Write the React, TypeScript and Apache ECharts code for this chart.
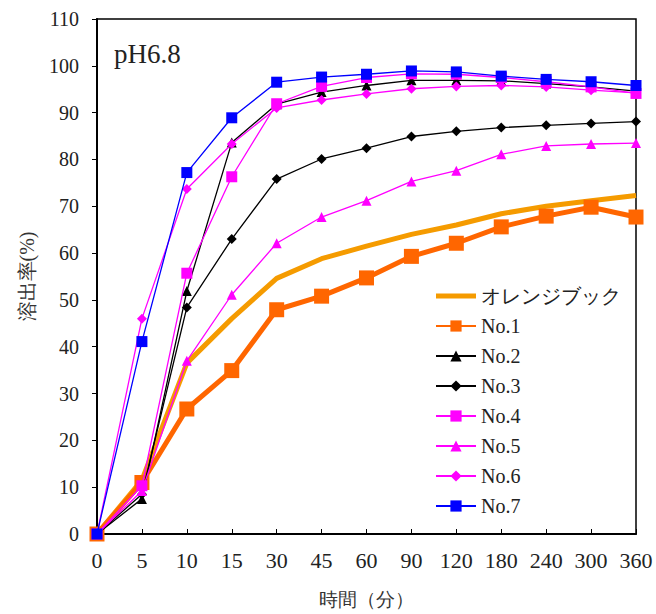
import React, { useEffect, useRef } from "react";
import * as echarts from "echarts";

const categories = ["0", "5", "10", "15", "30", "45", "60", "90", "120", "180", "240", "300", "360"];
const orangeBook = [0, 11.5, 36.5, 46, 54.6, 58.8, 61.5, 64, 66, 68.4, 70, 71.2, 72.3];
const no1 = [0, 11, 26.7, 34.9, 47.9, 50.8, 54.7, 59.3, 62.1, 65.6, 67.9, 69.8, 67.7];
const no2 = [0, 7.5, 51.9, 83.6, 91.8, 94.4, 95.8, 96.9, 96.9, 96.8, 96.2, 95.5, 94.6];
const no3 = [0, 8.5, 48.4, 63, 75.8, 80.1, 82.4, 84.9, 86, 86.8, 87.3, 87.7, 88.1];
const no4 = [0, 10.3, 55.7, 76.3, 91.9, 95.6, 97.5, 98.3, 98.2, 97.5, 96.6, 95.5, 94.1];
const no5 = [0, 9.2, 37, 51.1, 62.1, 67.7, 71.2, 75.3, 77.6, 81.1, 82.9, 83.3, 83.5];
const no6 = [0, 46, 73.7, 83.3, 91, 92.7, 94, 95.1, 95.6, 95.8, 95.5, 94.8, 94.2];
const no7 = [0, 41.1, 77.2, 88.9, 96.5, 97.6, 98.2, 98.9, 98.7, 97.8, 97.1, 96.6, 95.8];

const SERIF = "Liberation Serif, Times New Roman, Tinos, serif";

export default function App() {
  const ref = useRef<HTMLDivElement>(null);
  useEffect(() => {
    if (!ref.current) return;
    const chart = echarts.init(ref.current, undefined, { renderer: "svg" });
    const mk = (name: string, data: number[], color: string, symbol: string, symbolSize: number, width: number, z: number) => ({
      name,
      type: "line",
      data,
      symbol,
      symbolSize,
      showSymbol: symbol !== "none",
      lineStyle: { color, width },
      itemStyle: { color },
      z,
    });
    chart.setOption({
      animation: false,
      textStyle: { fontFamily: SERIF },
      grid: {
        left: 97,
        right: 20,
        top: 19,
        bottom: 76,
        show: true,
        borderColor: "#000",
        borderWidth: 1.5,
      },
      graphic: [
        {
          type: "text",
          left: 114,
          top: 40,
          style: { text: "pH6.8", fontSize: 27, fontFamily: SERIF, fill: "#222" },
        },
      ],
      legend: {
        orient: "vertical",
        left: 430,
        top: 281,
        itemWidth: 40,
        itemHeight: 14,
        itemGap: 10,
        textStyle: { fontSize: 20, fontFamily: SERIF, color: "#222", lineHeight: 20 },
        data: [
          { name: "オレンジブック", icon: "path://M0,0 H40 V5 H0 Z" },
          "No.1",
          "No.2",
          "No.3",
          "No.4",
          "No.5",
          "No.6",
          "No.7",
        ],
      },
      xAxis: {
        type: "category",
        data: categories,
        boundaryGap: false,
        name: "時間（分）",
        nameLocation: "middle",
        nameGap: 56,
        nameTextStyle: { fontSize: 19, fontFamily: SERIF, color: "#333" },
        axisLine: { lineStyle: { color: "#000", width: 2 } },
        axisTick: { inside: true, length: 5, lineStyle: { color: "#000" } },
        axisLabel: { fontSize: 22, fontFamily: SERIF, color: "#222", margin: 15 },
        splitLine: { show: false },
      },
      yAxis: {
        type: "value",
        min: 0,
        max: 110,
        interval: 10,
        name: "溶出率(%)",
        nameLocation: "middle",
        nameRotate: 90,
        nameGap: 60,
        nameTextStyle: { fontSize: 20, fontFamily: SERIF, color: "#333" },
        axisLine: { show: true, lineStyle: { color: "#000", width: 2 } },
        axisTick: { show: true, inside: false, length: 5, lineStyle: { color: "#000" } },
        axisLabel: { fontSize: 20, fontFamily: SERIF, color: "#222", margin: 18 },
        splitLine: { show: false },
      },
      series: [
        mk("オレンジブック", orangeBook, "#F59B00", "none", 0, 5, 2),
        mk("No.1", no1, "#FF6600", "rect", 15, 5, 3),
        mk("No.2", no2, "#000000", "triangle", 10, 1.3, 4),
        mk("No.3", no3, "#000000", "diamond", 10, 1.3, 5),
        mk("No.4", no4, "#FF00FF", "rect", 11, 1.3, 6),
        mk("No.5", no5, "#FF00FF", "triangle", 10, 1.3, 7),
        mk("No.6", no6, "#FF00FF", "diamond", 10, 1.3, 8),
        mk("No.7", no7, "#0000FF", "rect", 11, 1.3, 9),
      ],
    });
    return () => chart.dispose();
  }, []);
  return <div ref={ref} style={{ position: "absolute", left: 0, top: 0, width: 656, height: 614 }} />;
}
